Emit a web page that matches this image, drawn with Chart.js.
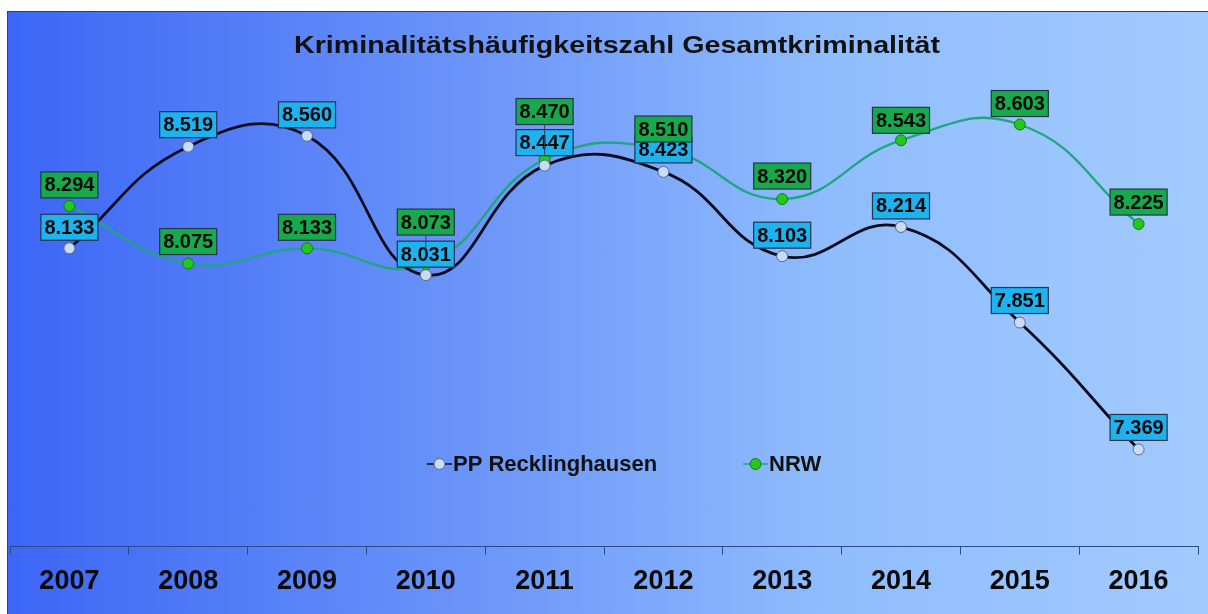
<!DOCTYPE html>
<html>
<head>
<meta charset="utf-8">
<script src="https://cdn.jsdelivr.net/npm/chart.js@4.4.1/dist/chart.umd.min.js"></script>
<style>
  html, body { margin: 0; padding: 0; background: #fff; overflow: hidden; }
  #frame {
    position: absolute; left: 7px; top: 11px; width: 1201px; height: 603px;
    border-top: 1px solid #24408c; border-left: 1px solid #24408c;
    background: linear-gradient(to right, #3c66f5 0%, #6a94f9 38%, #8fbcfd 68%, #a2cbfd 100%);
  }
  #chart { display: block; }
</style>
</head>
<body>
<div id="frame"><canvas id="chart" width="1200" height="602"></canvas></div>
<script>
console.log("Chart loaded");

// DATA
const years = ['2007', '2008', '2009', '2010', '2011', '2012', '2013', '2014', '2015', '2016'];
const ppRecklinghausen = [8133, 8519, 8560, 8031, 8447, 8423, 8103, 8214, 7851, 7369];
const nrw = [8294, 8075, 8133, 8073, 8470, 8510, 8320, 8543, 8603, 8225];

// how far each value box sits above its point (px)
const ppLift = [21, 22, 21, 21, 23, 22, 21, 21, 22, 22];
const nrwLift = [21, 22, 21, 42, 48, 20, 23, 20, 21, 22];

const chartTitle = 'Kriminalitätshäufigkeitszahl Gesamtkriminalität';

function fmt(v) {
  return Math.floor(v / 1000) + '.' + String(v % 1000).padStart(3, '0');
}

// title, drawn at a fixed place over the plot (slightly wide face, like the original)
const titlePlugin = {
  id: 'fixedTitle',
  afterDraw(chart) {
    const ctx = chart.ctx;
    ctx.save();
    ctx.font = 'bold 24px "Liberation Sans", Arial, sans-serif';
    ctx.fillStyle = '#111111';
    ctx.textAlign = 'center';
    ctx.textBaseline = 'middle';
    const sx = 646 / ctx.measureText(chartTitle).width;
    ctx.translate(609, 34);
    ctx.scale(sx, 1);
    ctx.fillText(chartTitle, 0, 0);
    ctx.restore();
  }
};

// boxed value labels
const valueBoxes = {
  id: 'valueBoxes',
  afterDatasetsDraw(chart) {
    const ctx = chart.ctx;
    ctx.save();
    ctx.font = 'bold 20px "Liberation Sans", Arial, sans-serif';
    ctx.textAlign = 'center';
    ctx.textBaseline = 'middle';
    chart.data.datasets.forEach((ds, i) => {
      const meta = chart.getDatasetMeta(i);
      meta.data.forEach((pt, j) => {
        const txt = fmt(ds.data[j]);
        const w = ctx.measureText(txt).width + 7;
        const h = 26;
        const cy = pt.y - ds.lift[j];
        if (ds.lift[j] > 30) {
          ctx.strokeStyle = '#34425a';
          ctx.lineWidth = 1;
          ctx.beginPath();
          ctx.moveTo(pt.x, cy + h / 2);
          ctx.lineTo(pt.x, pt.y - 5);
          ctx.stroke();
        }
        ctx.fillStyle = ds.boxColor;
        ctx.fillRect(pt.x - w / 2, cy - h / 2, w, h);
        ctx.strokeStyle = '#26344e';
        ctx.lineWidth = 1.2;
        ctx.strokeRect(pt.x - w / 2, cy - h / 2, w, h);
        ctx.fillStyle = '#0a0a0a';
        ctx.fillText(txt, pt.x, cy + 1);
      });
    });
    ctx.restore();
  }
};

// legend inside the plot area
const innerLegend = {
  id: 'innerLegend',
  afterDraw(chart) {
    const ctx = chart.ctx;
    const spots = [419, 735];
    const y = 452;
    ctx.save();
    ctx.font = 'bold 22px "Liberation Sans", Arial, sans-serif';
    ctx.textBaseline = 'middle';
    chart.data.datasets.forEach((ds, i) => {
      const x = spots[i];
      ctx.strokeStyle = ds.borderColor;
      ctx.lineWidth = 1.5;
      ctx.beginPath();
      ctx.moveTo(x, y);
      ctx.lineTo(x + 25, y);
      ctx.stroke();
      ctx.beginPath();
      ctx.arc(x + 12.5, y, 5.5, 0, Math.PI * 2);
      ctx.fillStyle = ds.pointBackgroundColor;
      ctx.fill();
      ctx.strokeStyle = ds.pointBorderColor;
      ctx.lineWidth = 1;
      ctx.stroke();
      ctx.fillStyle = '#111111';
      ctx.fillText(ds.label, x + 26, y + 1);
    });
    ctx.restore();
  }
};

new Chart(document.getElementById('chart'), {
  type: 'line',
  data: {
    labels: years,
    datasets: [
      {
        label: 'PP Recklinghausen',
        data: ppRecklinghausen,
        lift: ppLift,
        boxColor: '#1eb2ef',
        borderColor: '#0c0c1c',
        borderWidth: 2.8,
        tension: 0.45,
        pointRadius: 5.5,
        pointBackgroundColor: '#c8dcf6',
        pointBorderColor: '#56688a',
        pointBorderWidth: 1
      },
      {
        label: 'NRW',
        data: nrw,
        lift: nrwLift,
        boxColor: '#17a94c',
        borderColor: '#1fa67c',
        borderWidth: 2.3,
        tension: 0.45,
        pointRadius: 5.5,
        pointBackgroundColor: '#22c81c',
        pointBorderColor: '#137a16',
        pointBorderWidth: 1
      }
    ]
  },
  options: {
    responsive: false,
    animation: false,
    layout: { autoPadding: false, padding: { left: 2, right: 10, top: 8, bottom: 5 } },
    plugins: {
      legend: { display: false },
      tooltip: { enabled: false },
      title: { display: false }
    },
    scales: {
      y: { display: false, min: 7000, max: 9000 },
      x: {
        offset: true,
        grid: { offset: true, drawOnChartArea: false, tickLength: 8, color: '#2c4a8a' },
        border: { display: true, color: '#2c4a8a', width: 1 },
        ticks: {
          color: '#0a0a0a',
          padding: 11,
          font: { family: '"Liberation Sans", Arial, sans-serif', size: 27, weight: 'bold' }
        }
      }
    }
  },
  plugins: [titlePlugin, valueBoxes, innerLegend]
});
</script>
</body>
</html>
